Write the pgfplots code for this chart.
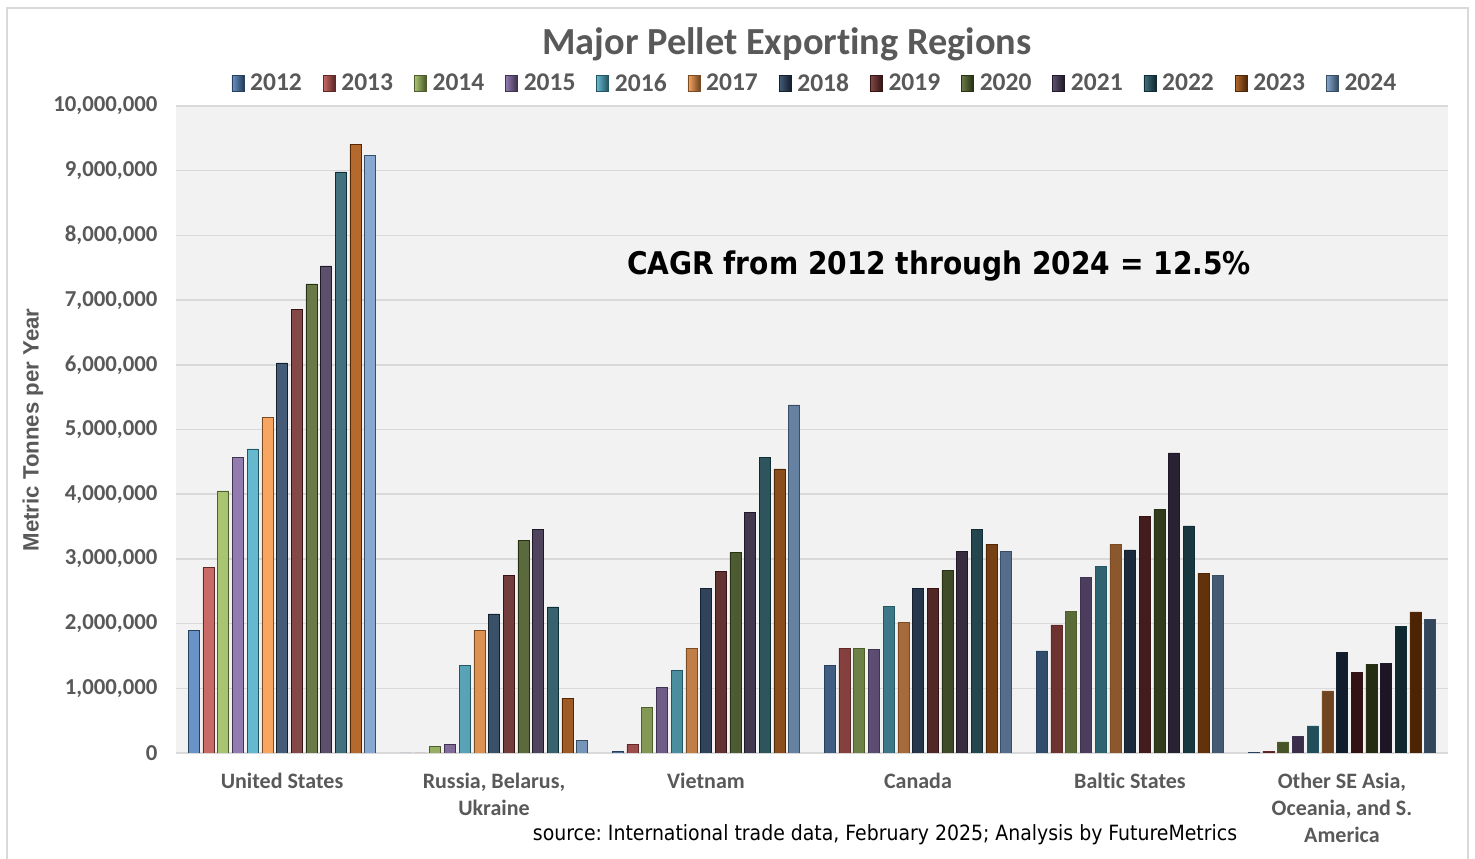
\documentclass[border=0pt]{standalone}
\usepackage{pgfplots}
\pgfplotsset{compat=1.18}
\usepackage{pgfplotstable}
\usepackage{fontspec}
\setmainfont{Carlito}[Ligatures=NoCommon]
\newfontfamily\arialb{Liberation Sans}
\newfontfamily\tahoma{DejaVu Sans Condensed}
\frenchspacing

\definecolor{txtgray}{HTML}{595959}
\definecolor{gridc}{HTML}{D9D9D9}
\definecolor{plotbg}{HTML}{F2F2F2}
\definecolor{c12}{HTML}{4F81BD}
\definecolor{c13}{HTML}{C0504D}
\definecolor{c14}{HTML}{9BBB59}
\definecolor{c15}{HTML}{8064A2}
\definecolor{c16}{HTML}{4BACC6}
\definecolor{c17}{HTML}{F79646}
\definecolor{c18}{HTML}{254061}
\definecolor{c19}{HTML}{6E2827}
\definecolor{c20}{HTML}{4F6228}
\definecolor{c21}{HTML}{3F3151}
\definecolor{c22}{HTML}{215967}
\definecolor{c23}{HTML}{A84F08}
\definecolor{c24}{HTML}{729ACA}

% one row per region, one column per year (tonnes)
\pgfplotstableread{
x y2012 y2013 y2014 y2015 y2016 y2017 y2018 y2019 y2020 y2021 y2022 y2023 y2024
0 1890000 2870000 4050000 4570000 4700000 5190000 6030000 6860000 7250000 7530000 8980000 9410000 9240000
1 0 0 100000 130000 1350000 1890000 2150000 2750000 3290000 3460000 2260000 850000 200000
2 20000 130000 710000 1020000 1280000 1620000 2540000 2810000 3100000 3720000 4570000 4390000 5380000
3 1360000 1620000 1620000 1600000 2270000 2020000 2540000 2550000 2820000 3120000 3460000 3230000 3120000
4 1580000 1980000 2190000 2720000 2890000 3230000 3140000 3660000 3760000 4640000 3510000 2780000 2740000
5 10000 30000 170000 260000 420000 960000 1550000 1250000 1370000 1380000 1960000 2180000 2070000
}\exports

\pgfplotsset{bev/.style={draw=#1!50!black, line width=0.5pt,
    left color=#1!85!white, middle color=#1, right color=#1!45!black}}

\begin{document}
\begin{tikzpicture}
\useasboundingbox (0,0) rectangle (1475pt,859pt);
\fill[white] (0,0) rectangle (1475pt,859pt);
\draw[gridc, line width=1.2pt] (7pt,-5pt) -- (7pt,851pt) -- (1468pt,851pt) -- (1468pt,-5pt);

\begin{axis}[
    at={(176pt,106pt)}, anchor=south west,
    scale only axis, width=1272pt, height=647pt,
    ybar=3.7pt, bar width=11pt,
    xmin=-0.5, xmax=5.5, ymin=0, ymax=10000000,
    ytick distance=1000000,
    xtick=data,
    xticklabels={United States, {Russia, Belarus,\\Ukraine}, Vietnam, Canada, Baltic States, {Other SE Asia,\\Oceania, and S.\\America}},
    major tick length=0,
    axis line style={draw=none},
    axis background/.style={fill=plotbg},
    ymajorgrids, grid style={gridc, line width=1.5pt},
    scaled y ticks=false,
    /pgf/number format/fixed,
    /pgf/number format/1000 sep={,},
    /pgf/number format/assume math mode=true,
    y tick label style={font=\bfseries\fontsize{22.8}{26}\selectfont, text=txtgray, xshift=-15pt},
    x tick label style={font=\bfseries\fontsize{22}{27}\selectfont, text=txtgray, align=center, yshift=-17pt},
    legend columns=13,
    legend style={at={(0.5,1)}, anchor=south, yshift=9pt, xshift=5pt, draw=none, fill=none,
        font=\bfseries\fontsize{25.5}{29}\selectfont, text=txtgray,
        nodes={inner xsep=6pt},
        /tikz/every even column/.append style={column sep=15pt}},
    legend image code/.code={\draw[#1] (0pt,-8pt) rectangle (12pt,8pt);},
]
\addplot[bev=c12] table[x=x, y=y2012] {\exports};
\addplot[bev=c13] table[x=x, y=y2013] {\exports};
\addplot[bev=c14] table[x=x, y=y2014] {\exports};
\addplot[bev=c15] table[x=x, y=y2015] {\exports};
\addplot[bev=c16] table[x=x, y=y2016] {\exports};
\addplot[bev=c17] table[x=x, y=y2017] {\exports};
\addplot[bev=c18] table[x=x, y=y2018] {\exports};
\addplot[bev=c19] table[x=x, y=y2019] {\exports};
\addplot[bev=c20] table[x=x, y=y2020] {\exports};
\addplot[bev=c21] table[x=x, y=y2021] {\exports};
\addplot[bev=c22] table[x=x, y=y2022] {\exports};
\addplot[bev=c23] table[x=x, y=y2023] {\exports};
\addplot[bev=c24] table[x=x, y=y2024] {\exports};
\legend{2012,2013,2014,2015,2016,2017,2018,2019,2020,2021,2022,2023,2024}
\end{axis}

\node[font=\bfseries\fontsize{38.3}{42}\selectfont, text=txtgray] at (787pt,815pt) {Major Pellet Exporting Regions};
\node[rotate=90, font=\arialb\bfseries\fontsize{22.2}{26}\selectfont, text=txtgray] at (33pt,429pt) {Metric Tonnes per Year};
\node[font=\tahoma\bfseries\fontsize{31.2}{36}\selectfont, text=black] at (939pt,593pt) {CAGR from 2012 through 2024 = 12.5\%};
\node[font=\tahoma\fontsize{21}{25}\selectfont, text=black] at (885pt,24pt) {source: International trade data, February 2025; Analysis by FutureMetrics};
\end{tikzpicture}
\end{document}
